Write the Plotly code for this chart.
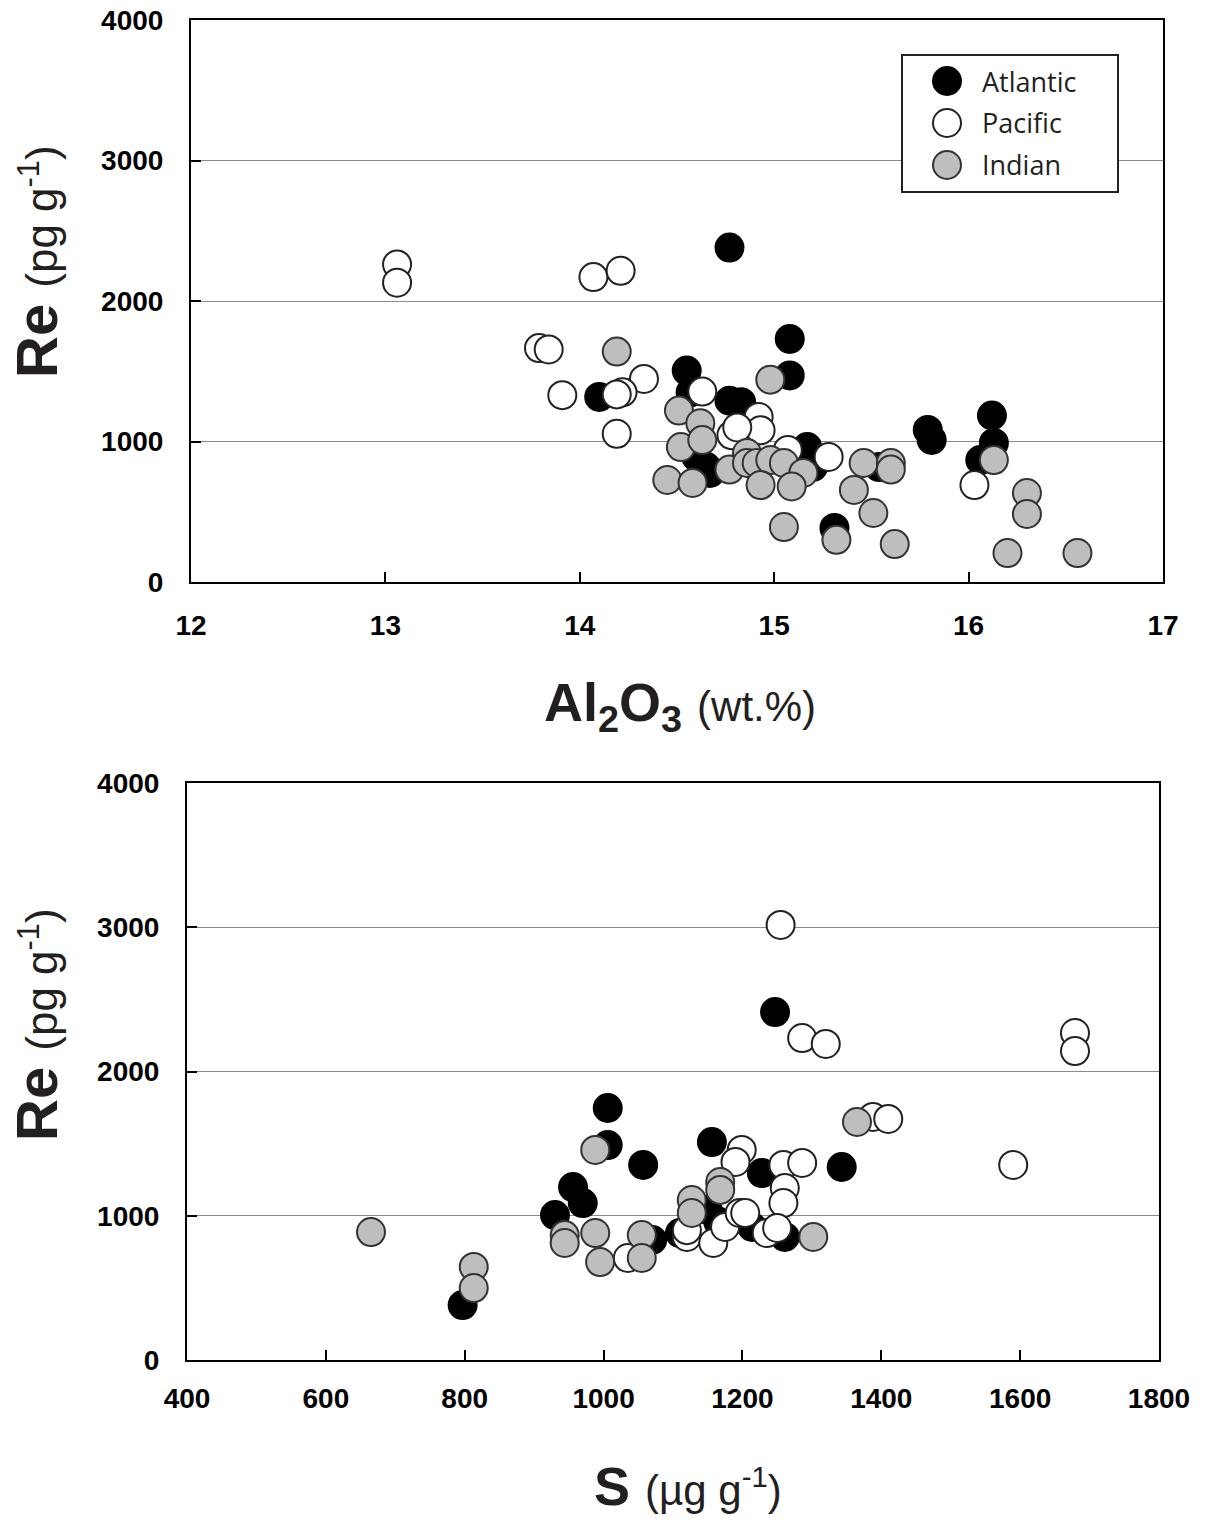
import plotly.graph_objects as go

# ---------------- data: top panel (Al2O3 wt.% vs Re pg/g) ----------------
al_atl = [14.77, 15.08, 15.08, 14.55, 14.10, 14.77, 14.83, 14.65, 14.60, 15.17, 15.20,
          15.31, 15.79, 15.81, 16.12, 16.13, 16.06, 15.54, 14.57, 14.67]
re_al_atl = [2380, 1730, 1470, 1505, 1317, 1290, 1280, 820, 890, 960, 820,
             385, 1082, 1011, 1185, 990, 868, 818, 1350, 776]

al_pac = [13.06, 13.06, 14.07, 14.21, 13.79, 13.84, 13.91, 14.33, 14.22, 14.19, 14.19,
          14.63, 14.92, 14.93, 14.78, 14.81, 15.07, 15.28, 16.03]
re_al_pac = [2260, 2130, 2170, 2215, 1665, 1655, 1330, 1445, 1350, 1335, 1055,
             1355, 1175, 1080, 1045, 1100, 940, 890, 690]

al_ind = [14.19, 14.98, 14.51, 14.62, 14.52, 14.63, 14.45, 14.58, 14.77, 14.86, 14.86,
          14.91, 14.98, 15.05, 15.15, 14.93, 15.09, 15.46, 15.41, 15.51, 15.05, 15.32,
          15.60, 15.60, 15.62, 16.13, 16.30, 16.30, 16.20, 16.56]
re_al_ind = [1640, 1440, 1220, 1130, 960, 1010, 726, 705, 800, 918, 847,
             847, 868, 847, 776, 690, 680, 847, 655, 491, 391, 300,
             847, 800, 270, 868, 633, 484, 206, 206]

# ---------------- data: bottom panel (S ug/g vs Re pg/g) ----------------
s_atl = [797, 1247, 1343, 1006, 1006, 1057, 956, 970, 930, 1070, 1156, 1228, 1261,
         1214, 1110, 1150, 1165]
re_s_atl = [381, 2412, 1338, 1747, 1490, 1352, 1199, 1088, 1005, 832, 1511, 1296, 853,
            922, 880, 1040, 960]

s_pac = [1255, 1286, 1320, 1679, 1679, 1590, 1388, 1410, 1035, 1199, 1190, 1120, 1158,
         1175, 1196, 1259, 1286, 1261, 1259, 1235, 1250, 1204, 1120]
re_s_pac = [3016, 2232, 2191, 2267, 2142, 1352, 1685, 1671, 707, 1456, 1373, 853, 811,
            922, 1019, 1352, 1366, 1192, 1088, 880, 915, 1019, 900]

s_ind = [665, 813, 813, 988, 944, 944, 988, 995, 1055, 1055, 1168, 1168, 1127, 1127,
         1302, 1365]
re_s_ind = [887, 645, 499, 1456, 866, 811, 880, 679, 866, 707, 1234, 1179, 1109, 1019,
            853, 1650]

series_names = ["Atlantic", "Pacific", "Indian"]
x_ticks_top = [12, 13, 14, 15, 16, 17]
x_ticks_bot = [400, 600, 800, 1000, 1200, 1400, 1600, 1800]
y_ticks = [0, 1000, 2000, 3000, 4000]

fills = {"Atlantic": "#000000", "Pacific": "#ffffff", "Indian": "#bdbec0"}
edges = {"Atlantic": "#000000", "Pacific": "#222222", "Indian": "#333333"}

fig = go.Figure()

top_sets = [(al_atl, re_al_atl), (al_pac, re_al_pac), (al_ind, re_al_ind)]
bot_sets = [(s_atl, re_s_atl), (s_pac, re_s_pac), (s_ind, re_s_ind)]

for name, (xs, ys) in zip(series_names, top_sets):
    fig.add_trace(go.Scatter(
        x=xs, y=ys, mode="markers", name=name, xaxis="x", yaxis="y",
        marker=dict(size=28, color=fills[name], line=dict(color=edges[name], width=2)),
        showlegend=False))

for name, (xs, ys) in zip(series_names, bot_sets):
    fig.add_trace(go.Scatter(
        x=xs, y=ys, mode="markers", name=name, xaxis="x2", yaxis="y2",
        marker=dict(size=28, color=fills[name], line=dict(color=edges[name], width=2)),
        showlegend=False))

W, H = 1208, 1520

def xp(px):
    return px / W

def yp(py):
    return 1 - py / H

tickfont = dict(family="Liberation Sans, Arial", size=28, color="black", weight="bold")

def axis_common():
    return dict(showline=True, linecolor="black", linewidth=2, mirror=True,
                ticks="inside", ticklen=10, tickwidth=2, tickcolor="black",
                tickfont=tickfont, zeroline=False, automargin=False,
                ticklabeloverflow="allow")

xa_top = axis_common()
xa_top.update(domain=[xp(191), xp(1163)], range=[12, 17], tickvals=x_ticks_top,
              showgrid=False, anchor="y", ticklabelstandoff=17)
ya_top = axis_common()
ya_top.update(domain=[yp(582), yp(20)], range=[0, 4000], tickvals=y_ticks,
              showgrid=True, gridcolor="#8a8a8a", gridwidth=1, anchor="x",
              ticklabelstandoff=20)
xa_bot = axis_common()
xa_bot.update(domain=[xp(187), xp(1159)], range=[400, 1800], tickvals=x_ticks_bot,
              showgrid=False, anchor="y2", ticklabelstandoff=12)
ya_bot = axis_common()
ya_bot.update(domain=[yp(1360), yp(783)], range=[0, 4000], tickvals=y_ticks,
              showgrid=True, gridcolor="#8a8a8a", gridwidth=1, anchor="x2",
              ticklabelstandoff=20)

title_font = dict(family="Liberation Sans, Arial", size=58, color="#231f20")
xtitle_font = dict(family="Liberation Sans, Arial", size=54, color="#231f20")

annotations = [
    dict(text='<b>Re</b> <span style="font-size:44px">(pg g<sup>-1</sup>)</span>',
         x=xp(36), y=yp(262), xref="paper", yref="paper", textangle=-90,
         showarrow=False, font=title_font, xanchor="center", yanchor="middle"),
    dict(text='<b>Re</b> <span style="font-size:44px">(pg g<sup>-1</sup>)</span>',
         x=xp(36), y=yp(1025), xref="paper", yref="paper", textangle=-90,
         showarrow=False, font=title_font, xanchor="center", yanchor="middle"),
    dict(text='<b>Al<sub>2</sub>O<sub>3</sub></b> <span style="font-size:42px">(wt.%)</span>',
         x=xp(680), y=yp(706), xref="paper", yref="paper",
         showarrow=False, font=xtitle_font, xanchor="center", yanchor="middle"),
    dict(text='<b>S</b> <span style="font-size:42px">(\u00b5g g<sup>-1</sup>)</span>',
         x=xp(688), y=yp(1486), xref="paper", yref="paper",
         showarrow=False, font=xtitle_font, xanchor="center", yanchor="middle"),
]

# ---- legend (drawn as a keyed box inside the upper panel) ----
legend_font = dict(family="Open Sans, Noto Sans, sans-serif", size=27, color="#231f20")
shapes = [dict(type="rect", xref="paper", yref="paper",
               x0=xp(902), x1=xp(1118), y0=yp(192), y1=yp(55),
               line=dict(color="#222222", width=2), fillcolor="white", layer="above")]
for i, name in enumerate(series_names):
    cy = 81 + 42 * i
    shapes.append(dict(type="circle", xref="paper", yref="paper",
                       x0=xp(947 - 14), x1=xp(947 + 14),
                       y0=yp(cy + 14), y1=yp(cy - 14),
                       fillcolor=fills[name], line=dict(color=edges[name], width=2),
                       layer="above"))
    annotations.append(dict(text=name, x=xp(980), y=yp(cy), xref="paper", yref="paper",
                            showarrow=False, font=legend_font, xanchor="left",
                            yanchor="middle"))

fig.update_layout(
    width=W, height=H, margin=dict(l=0, r=0, t=0, b=0, autoexpand=False),
    paper_bgcolor="white", plot_bgcolor="white",
    xaxis=xa_top, yaxis=ya_top, xaxis2=xa_bot, yaxis2=ya_bot,
    annotations=annotations, shapes=shapes,
    showlegend=False,
)

fig.write_html("out.html",
               config={"displayModeBar": False},
               post_script="document.body.style.margin='0px';document.body.style.overflow='hidden';")
